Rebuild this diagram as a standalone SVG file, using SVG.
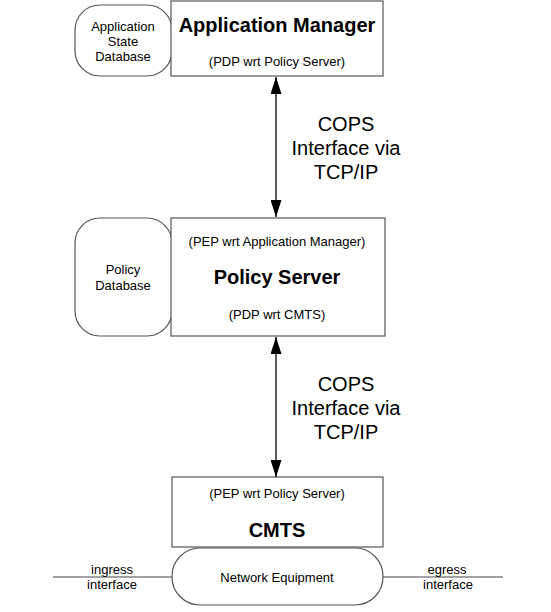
<svg xmlns="http://www.w3.org/2000/svg" width="551" height="612" viewBox="0 0 551 612">
<style>
text{font-family:"Liberation Sans",Arial,sans-serif;fill:#000;text-anchor:middle}
.box{fill:#fff;stroke:#555;stroke-width:1.2}
.s{font-size:13px}
.db{font-size:13px}
.t{font-size:20px;font-weight:bold}
.t2{font-size:20px;font-weight:bold}
.c{font-size:20px}
.ln{stroke:#000;stroke-width:1.3;fill:none}
.w{stroke:#444;stroke-width:1.2}
</style>
<defs>
<marker id="a" viewBox="0 0 17 11" refX="17" refY="5.5" markerWidth="17" markerHeight="11" markerUnits="userSpaceOnUse" orient="auto-start-reverse">
<path d="M0,0 L17,5.5 L0,11 Z" fill="#000"/>
</marker>
</defs>
<g id="app-state-db">
<rect class="box" x="75" y="5" width="97" height="71" rx="25"/>
<text class="db" x="123" y="31">Application</text>
<text class="db" x="123" y="46">State</text>
<text class="db" x="123" y="61">Database</text>
</g>
<g id="app-manager">
<rect class="box" x="171" y="1" width="212" height="75"/>
<text class="t" x="277" y="32">Application Manager</text>
<text class="s" x="277" y="66">(PDP wrt Policy Server)</text>
</g>
<g id="policy-db">
<rect class="box" x="75" y="218" width="97" height="118" rx="25"/>
<text class="db" x="123" y="274">Policy</text>
<text class="db" x="123" y="290">Database</text>
</g>
<g id="policy-server">
<rect class="box" x="171" y="218" width="214" height="118"/>
<text class="s" x="277" y="246">(PEP wrt Application Manager)</text>
<text class="t2" x="277" y="284">Policy Server</text>
<text class="s" x="277" y="319">(PDP wrt CMTS)</text>
</g>
<g id="cmts">
<rect class="box" x="172" y="477" width="211" height="70"/>
<text class="s" x="277" y="498">(PEP wrt Policy Server)</text>
<text class="t2" x="277" y="537">CMTS</text>
</g>
<g id="network-equipment">
<rect class="box" x="172" y="548" width="211" height="57" rx="28"/>
<text class="s" x="277" y="582">Network Equipment</text>
</g>
<g id="connectors">
<line class="ln" x1="276" y1="77" x2="276" y2="217" marker-start="url(#a)" marker-end="url(#a)"/>
<line class="ln" x1="276" y1="337" x2="276" y2="477" marker-start="url(#a)" marker-end="url(#a)"/>
<line class="w" x1="53" y1="577" x2="172" y2="577"/>
<line class="w" x1="383" y1="577" x2="503" y2="577"/>
</g>
<g id="labels">
<text class="c" x="346" y="131">COPS</text>
<text class="c" x="346" y="155">Interface via</text>
<text class="c" x="346" y="179">TCP/IP</text>
<text class="c" x="346" y="391">COPS</text>
<text class="c" x="346" y="415">Interface via</text>
<text class="c" x="346" y="439">TCP/IP</text>
<text class="s" x="112" y="574">ingress</text>
<text class="s" x="112" y="589">interface</text>
<text class="s" x="447" y="574">egress</text>
<text class="s" x="448" y="589">interface</text>
</g>
</svg>
